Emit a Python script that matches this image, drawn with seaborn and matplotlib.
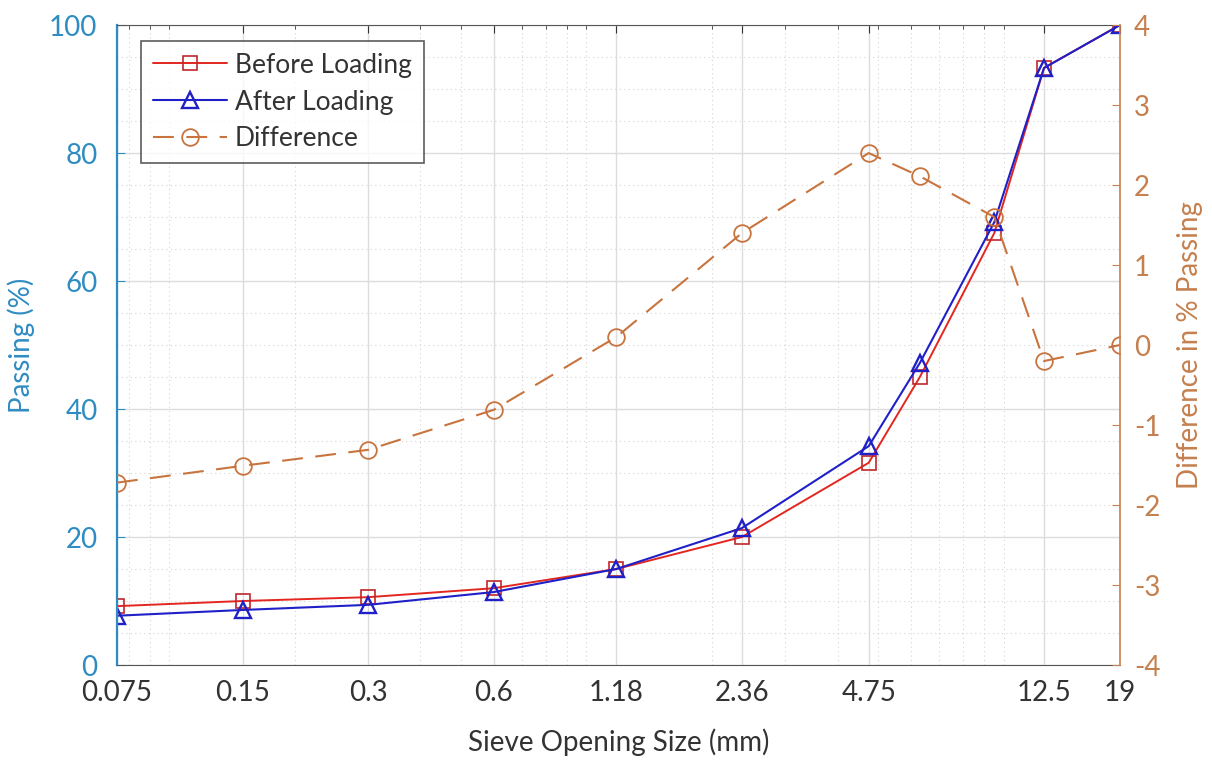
import numpy as np
import pandas as pd
import matplotlib
matplotlib.use("Agg")
import matplotlib.pyplot as plt
import matplotlib.ticker as mticker
import seaborn as sns

sieve = [0.075, 0.15, 0.3, 0.6, 1.18, 2.36, 4.75, 6.3, 9.5, 12.5, 19]
before = [9.2, 10.0, 10.6, 12.0, 15.0, 20.0, 31.6, 45.0, 67.5, 93.3, 100.0]
after = [7.7, 8.6, 9.4, 11.4, 15.0, 21.4, 34.2, 47.2, 69.2, 93.3, 100.0]
difference = [-1.72, -1.51, -1.31, -0.81, 0.1, 1.4, 2.4, 2.11, 1.6, -0.2, 0.0]
tick_vals = [0.075, 0.15, 0.3, 0.6, 1.18, 2.36, 4.75, 12.5, 19]
tick_labels = ["0.075", "0.15", "0.3", "0.6", "1.18", "2.36", "4.75", "12.5", "19"]

sns.set_style("white")
plt.rcParams['font.family'] = ['Lato', 'DejaVu Sans']
plt.rcParams['axes.unicode_minus'] = False

LEFT_C = "#2f8cc2"
RIGHT_C = "#c5804f"
RED = "#e3261f"
BLUE = "#2020c8"
DIFF_C = "#c8743f"
TXT = "#333333"

fig = plt.figure(figsize=(12.12, 7.6), dpi=100)
ax = fig.add_axes([0.0965, 0.125, 0.8275, 0.842])
ax2 = ax.twinx()

df = pd.DataFrame({"sieve": sieve, "before": before, "after": after, "diff": difference})

sns.lineplot(data=df, x="sieve", y="before", ax=ax, color=RED, lw=1.4,
             marker="s", markersize=10, markerfacecolor="none",
             markeredgecolor="#c0282a", markeredgewidth=1.2, label="Before Loading", legend=False)
sns.lineplot(data=df, x="sieve", y="after", ax=ax, color=BLUE, lw=1.5,
             marker="^", markersize=12, markerfacecolor="none",
             markeredgecolor=BLUE, markeredgewidth=1.7, label="After Loading", legend=False)
sns.lineplot(data=df, x="sieve", y="diff", ax=ax2, color=DIFF_C, lw=1.5,
             linestyle=(0, (10, 6)), marker="o", markersize=12, markerfacecolor="none",
             markeredgecolor=DIFF_C, markeredgewidth=1.3, label="Difference", legend=False)

ax.set_xscale("log")
ax.set_xlim(0.075, 19)
ax.set_ylim(0, 100)
ax2.set_ylim(-4, 4)

ax.xaxis.set_major_locator(mticker.FixedLocator(tick_vals))
ax.xaxis.set_major_formatter(mticker.FixedFormatter(tick_labels))
ax.xaxis.set_minor_locator(mticker.LogLocator(base=10, subs=np.arange(1, 10), numticks=50))
ax.xaxis.set_minor_formatter(mticker.NullFormatter())
ax.set_yticks([0, 20, 40, 60, 80, 100])
ax.yaxis.set_minor_locator(mticker.MultipleLocator(5))
ax2.set_yticks([-4, -3, -2, -1, 0, 1, 2, 3, 4])

ax.grid(True, which="major", color="#dcdcdc", lw=1.0)
ax.grid(True, which="minor", color="#d4d4d4", lw=0.8, linestyle=(0, (1, 3)))
ax.set_axisbelow(True)

ax.tick_params(axis="x", which="both", direction="in", top=True, colors=TXT, labelsize=20, pad=11)
ax.tick_params(axis="x", which="major", length=6)
ax.tick_params(axis="x", which="minor", length=3)
ax.tick_params(axis="y", which="major", direction="in", length=6, colors=LEFT_C, labelsize=20, pad=14)
ax.tick_params(axis="y", which="minor", left=False)
ax2.tick_params(axis="y", which="major", direction="in", length=6, colors=RIGHT_C, labelsize=20, pad=10)

for s in ["top", "bottom"]:
    ax.spines[s].set_color("#555555")
    ax2.spines[s].set_visible(False)
ax.spines["left"].set_color(LEFT_C)
ax.spines["left"].set_linewidth(1.6)
ax2.spines["left"].set_visible(False)
ax2.spines["right"].set_color(RIGHT_C)
ax2.spines["right"].set_linewidth(1.2)
ax.spines["right"].set_visible(False)

ax.set_xlabel("Sieve Opening Size (mm)", fontsize=20, color=TXT, labelpad=16)
ax.set_ylabel("Passing (%)", fontsize=20, color=LEFT_C, labelpad=10)
ax2.set_ylabel("Difference in % Passing", fontsize=20, color=RIGHT_C, labelpad=12)

h1, l1 = ax.get_legend_handles_labels()
h2, l2 = ax2.get_legend_handles_labels()
leg = ax2.legend(h1 + h2, l1 + l2, loc="upper left", bbox_to_anchor=(0.011, 0.996),
                 fontsize=19, frameon=True, fancybox=False, borderpad=0.45,
                 handlelength=2.8, labelspacing=0.45, handletextpad=0.3)
leg.get_frame().set_edgecolor("#333333")
leg.get_frame().set_linewidth(1.2)
for t in leg.get_texts():
    t.set_color(TXT)

fig.savefig("out.png", dpi=100)
